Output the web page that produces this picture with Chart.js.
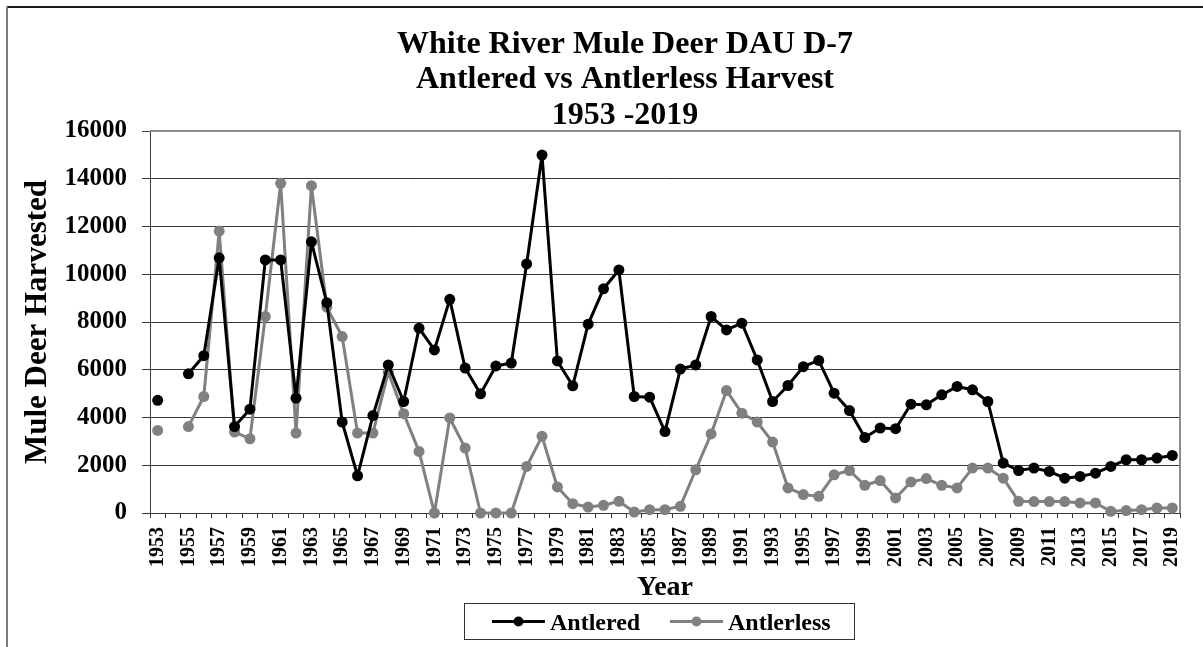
<!DOCTYPE html>
<html>
<head>
<meta charset="utf-8">
<title>White River Mule Deer DAU D-7</title>
<script src="https://cdn.jsdelivr.net/npm/chart.js@4.4.1/dist/chart.umd.min.js"></script>
<style>
  html, body { margin: 0; padding: 0; background: #ffffff; overflow: hidden; }
  #wrap { width: 1203px; height: 647px; position: relative; }
</style>
</head>
<body>
<div id="wrap"><canvas id="harvest" width="1203" height="647"></canvas></div>
<script>
// Harvest seasons, 1953 through 2019 (no record for 1954)
const years = [
  '1953','1954','1955','1956','1957','1958','1959','1960','1961','1962',
  '1963','1964','1965','1966','1967','1968','1969','1970','1971','1972',
  '1973','1974','1975','1976','1977','1978','1979','1980','1981','1982',
  '1983','1984','1985','1986','1987','1988','1989','1990','1991','1992',
  '1993','1994','1995','1996','1997','1998','1999','2000','2001','2002',
  '2003','2004','2005','2006','2007','2008','2009','2010','2011','2012',
  '2013','2014','2015','2016','2017','2018','2019'
];

// Antlered (buck) harvest per year
const antlered = [
  4720, null, 5830, 6590, 10690, 3620, 4350, 10600, 10600, 4810,
  11360, 8810, 3810, 1560, 4080, 6200, 4670, 7740, 6830, 8950,
  6070, 4990, 6160, 6280, 10430, 14990, 6370, 5330, 7910, 9390,
  10180, 4880, 4850, 3410, 6030, 6200, 8230, 7670, 7950, 6410,
  4670, 5340, 6130, 6390, 5020, 4290, 3160, 3560, 3530, 4560,
  4530, 4950, 5300, 5160, 4670, 2090, 1780, 1880, 1740, 1460,
  1530, 1670, 1950, 2230, 2230, 2300, 2410
];

// Antlerless (doe/fawn) harvest per year
const antlerless = [
  3460, null, 3620, 4880, 11810, 3390, 3110, 8230, 13810, 3350,
  13710, 8620, 7390, 3350, 3350, 5900, 4160, 2580, 0, 3980,
  2720, 0, 0, 0, 1950, 3210, 1090, 390, 250, 320,
  490, 40, 140, 140, 280, 1810, 3310, 5130, 4180, 3810,
  2970, 1050, 770, 700, 1600, 1780, 1160, 1360, 630, 1300,
  1440, 1160, 1050, 1880, 1880, 1460, 490, 480, 480, 480,
  420, 420, 70, 100, 140, 210, 210
];

// Axis and title text
const titleLines = ['White River Mule Deer DAU D-7', 'Antlered vs Antlerless Harvest', '1953 -2019'];
const yAxisTitle = 'Mule Deer Harvested';
const xAxisTitle = 'Year';
const yTickMin = 0, yTickMax = 16000, yTickStep = 2000;

const SERIF = "'Liberation Serif', 'Times New Roman', serif";
const BLACK = '#000000';
const GREY = '#808080';
const GRID = '#3a3a3a';
const FRAME = '#8c8c8c';

// Frame, heading, plot border and boxed legend
const decorations = {
  id: 'decorations',
  beforeDraw(chart) {
    const ctx = chart.ctx;
    ctx.save();
    ctx.fillStyle = '#ffffff';
    ctx.fillRect(0, 0, chart.width, chart.height);
    // outer chart frame
    ctx.lineWidth = 2;
    ctx.strokeStyle = '#1a1a1a';
    ctx.beginPath();
    ctx.moveTo(7, 7);
    ctx.lineTo(chart.width, 7);
    ctx.stroke();
    ctx.strokeStyle = '#7a7a7a';
    ctx.beginPath();
    ctx.moveTo(7, 7);
    ctx.lineTo(7, chart.height);
    ctx.stroke();
    // heading
    ctx.fillStyle = BLACK;
    ctx.font = 'bold 32px ' + SERIF;
    ctx.textAlign = 'center';
    ctx.textBaseline = 'alphabetic';
    const baselines = [53, 88, 124];
    titleLines.forEach((t, i) => ctx.fillText(t, 625, baselines[i]));
    ctx.restore();
  },
  beforeDatasetsDraw(chart) {
    const {ctx, chartArea: a} = chart;
    ctx.save();
    ctx.strokeStyle = FRAME;
    ctx.lineWidth = 2;
    ctx.beginPath();
    ctx.moveTo(a.left, a.top);
    ctx.lineTo(a.right, a.top);
    ctx.lineTo(a.right, a.bottom);
    ctx.stroke();
    ctx.restore();
  },
  afterDraw(chart) {
    const ctx = chart.ctx;
    ctx.save();
    // legend box
    ctx.strokeStyle = '#333333';
    ctx.lineWidth = 1;
    ctx.strokeRect(464.5, 603.5, 390, 36);
    const items = [
      {label: chart.data.datasets[0].label, color: BLACK, x0: 492, x1: 545, tx: 550},
      {label: chart.data.datasets[1].label, color: GREY, x0: 670, x1: 723, tx: 728}
    ];
    const cy = 621.5;
    items.forEach(it => {
      ctx.strokeStyle = it.color;
      ctx.lineWidth = 3;
      ctx.beginPath();
      ctx.moveTo(it.x0, cy);
      ctx.lineTo(it.x1, cy);
      ctx.stroke();
      ctx.fillStyle = it.color;
      ctx.beginPath();
      ctx.arc((it.x0 + it.x1) / 2, cy, 5, 0, Math.PI * 2);
      ctx.fill();
      ctx.fillStyle = BLACK;
      ctx.font = 'bold 24px ' + SERIF;
      ctx.textAlign = 'left';
      ctx.textBaseline = 'alphabetic';
      ctx.fillText(it.label, it.tx, 629.5);
    });
    ctx.restore();
  }
};

const ctx = document.getElementById('harvest').getContext('2d');
new Chart(ctx, {
  type: 'line',
  data: {
    labels: years,
    datasets: [
      {
        label: 'Antlered',
        data: antlered,
        borderColor: BLACK,
        backgroundColor: BLACK,
        borderWidth: 3,
        borderJoinStyle: 'round',
        pointRadius: 5.5,
        pointBackgroundColor: BLACK,
        pointBorderWidth: 0,
        spanGaps: false,
        tension: 0,
        clip: false,
        order: 0
      },
      {
        label: 'Antlerless',
        data: antlerless,
        borderColor: GREY,
        backgroundColor: GREY,
        borderWidth: 3,
        borderJoinStyle: 'round',
        pointRadius: 5.5,
        pointBackgroundColor: GREY,
        pointBorderWidth: 0,
        spanGaps: false,
        tension: 0,
        clip: false,
        order: 1
      }
    ]
  },
  options: {
    responsive: false,
    animation: false,
    devicePixelRatio: 1,
    layout: { padding: { top: 131, right: 23, bottom: 0, left: 0 } },
    plugins: {
      legend: { display: false },
      title: { display: false },
      tooltip: { enabled: false }
    },
    scales: {
      x: {
        type: 'category',
        offset: true,
        grid: {
          offset: true,
          drawOnChartArea: false,
          drawTicks: true,
          tickLength: 5,
          tickColor: GRID,
          color: GRID
        },
        border: { display: true, color: GRID, width: 1 },
        ticks: {
          autoSkip: false,
          minRotation: 90,
          maxRotation: 90,
          padding: 9,
          color: BLACK,
          font: { family: SERIF, size: 20, weight: 'bold' },
          callback: function (value, index) {
            const y = years[index];
            return (Number(y) % 2 === 1) ? y : '';
          }
        },
        title: {
          display: true,
          text: xAxisTitle,
          color: BLACK,
          font: { family: SERIF, size: 28, weight: 'bold' },
          padding: { top: 0, bottom: 42 }
        },
        afterFit(scale) {
          scale.height = 134;
          scale.paddingLeft = 0;
          scale.paddingRight = 0;
        }
      },
      y: {
        min: yTickMin,
        max: yTickMax,
        grid: {
          drawTicks: true,
          tickLength: 8,
          tickColor: GRID,
          lineWidth: 1,
          color: (c) => (c.tick && c.tick.value === yTickMax) ? FRAME : GRID
        },
        border: { display: true, color: GRID, width: 1 },
        ticks: {
          stepSize: yTickStep,
          padding: 15,
          color: BLACK,
          font: { family: SERIF, size: 25, weight: 'bold' },
          callback: (v) => String(v)
        },
        title: {
          display: true,
          text: yAxisTitle,
          color: BLACK,
          font: { family: SERIF, size: 31, weight: 'bold' },
          padding: { top: 19, bottom: 0 }
        },
        afterFit(scale) {
          scale.width = 150;
          scale.paddingTop = 0;
          scale.paddingBottom = 0;
        }
      }
    }
  },
  plugins: [decorations]
});
</script>
</body>
</html>
